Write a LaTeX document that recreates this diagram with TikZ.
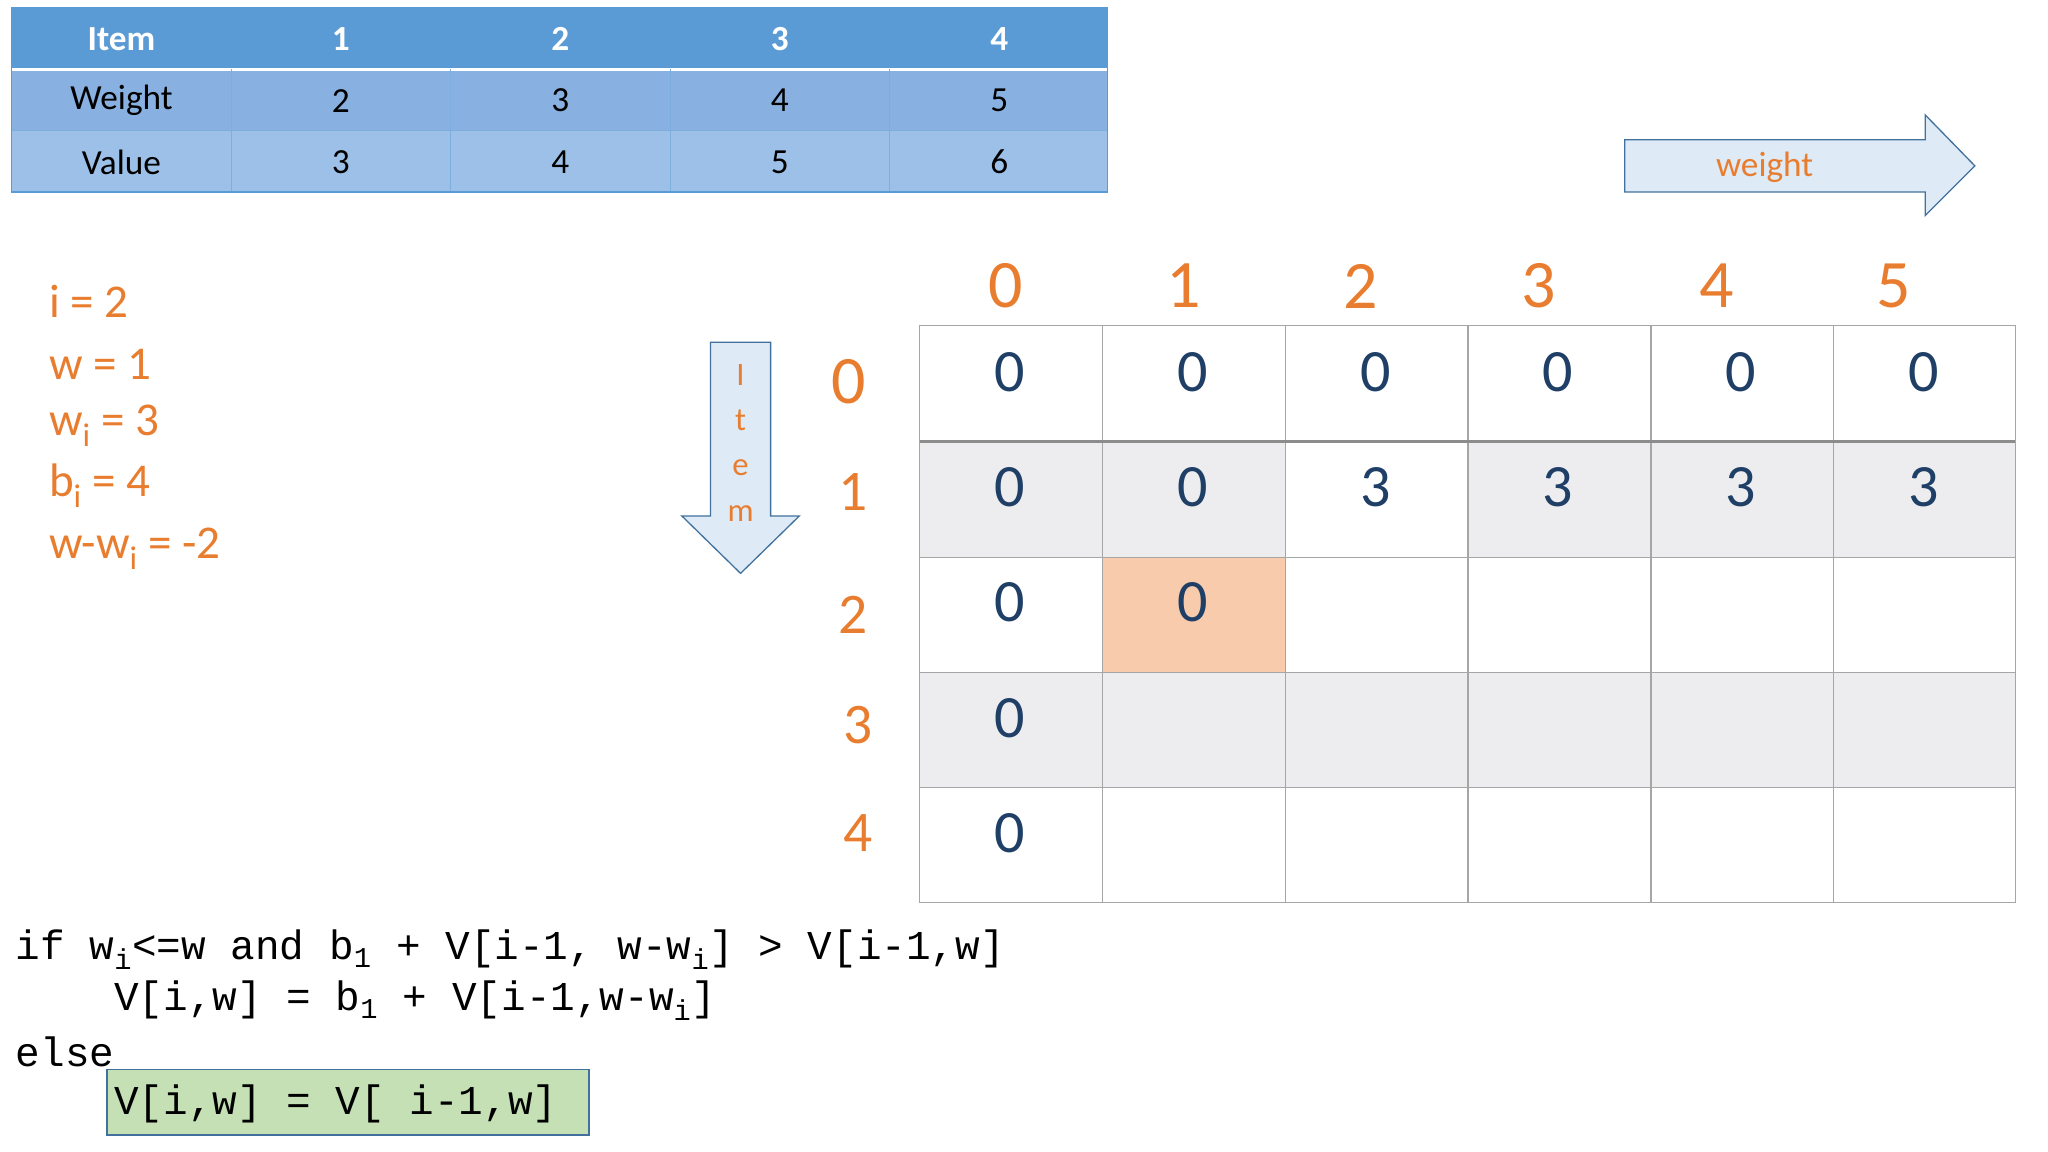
\documentclass[tikz,border=0pt]{standalone}
\usepackage{fontspec}
\setmainfont{Carlito}
\setmonofont{Liberation Mono}
\definecolor{org}{HTML}{E87D2F}
\definecolor{num}{HTML}{1F3F66}
\definecolor{hdr}{HTML}{5B9BD5}
\definecolor{rowa}{HTML}{88B0E0}
\definecolor{rowb}{HTML}{9DC0E8}
\definecolor{gry}{HTML}{EDEDF0}
\definecolor{pch}{HTML}{F8CBAD}
\definecolor{arrf}{HTML}{DEEBF7}
\definecolor{arrd}{HTML}{41719C}
\definecolor{grn}{HTML}{C5E0B4}
\begin{document}
\begin{tikzpicture}[x=1pt,y=-1pt,
  cell/.style={font=\fontsize{27}{30}\selectfont,anchor=center},
  gnum/.style={font=\fontsize{46}{50}\selectfont,text=num,anchor=center},
  glab/.style={font=\fontsize{52}{56}\selectfont,text=org,anchor=center},
  var/.style={font=\fontsize{36}{40}\selectfont,text=org,anchor=west},
  code/.style={font=\ttfamily\fontsize{31.4}{34}\selectfont,anchor=west,inner sep=0}]
\useasboundingbox (0,0) rectangle (1568,882);
% table
\fill[hdr] (9,6) rectangle (848,53);
\fill[rowa] (9,53) rectangle (848,100);
\fill[rowb] (9,100) rectangle (848,147);
\draw[white,line width=2pt] (9,53) -- (848,53);
\foreach \x in {177,345,513,681} \draw[hdr!80,line width=0.6pt] (\x,53) -- (\x,147);
\draw[hdr!80,line width=0.6pt] (9,100) -- (848,100);
\draw[hdr,line width=0.8pt] (9,6) rectangle (848,147);
\foreach \t [count=\i from 0] in {Item,1,2,3,4} {
  \pgfmathsetmacro\cx{93+168*\i}
  \node[cell,text=white,font=\bfseries\fontsize{27}{30}\selectfont] (h\i) at (\cx,30) {\t};}
\foreach \t [count=\i from 0] in {Weight,2,3,4,5} {
  \pgfmathsetmacro\cx{93+168*\i}
  \node[cell] (w\i) at (\cx,77) {\t};}
\foreach \t [count=\i from 0] in {Value,3,4,5,6} {
  \pgfmathsetmacro\cx{93+168*\i}
  \node[cell] (v\i) at (\cx,124) {\t};}
% weight arrow
\draw[fill=arrf,draw=arrd,line width=1pt] (1244,107) -- (1474,107) -- (1474,88) -- (1512,127) -- (1474,165) -- (1474,147) -- (1244,147) -- cycle;
\node[font=\fontsize{27}{30}\selectfont,text=org] (wa) at (1351,128) {weight};
% item arrow
\draw[fill=arrf,draw=arrd,line width=1pt] (544,262) -- (590,262) -- (590,395) -- (612,395) -- (567,439) -- (522,395) -- (544,395) -- cycle;
\foreach \t/\y [count=\i] in {I/287,t/322,e/358,m/393}
  \node[font=\fontsize{25}{28}\selectfont,text=org] (it\i) at (567,\y) {\t};
% variables
\node[var] (v1) at (34,231) {i = 2};
\node[var] (v2) at (34,279) {w = 1};
\node[var] (v3) at (34,326) {w\textsubscript{i} = 3};
\node[var] (v4) at (34,372) {b\textsubscript{i} = 4};
\node[var] (v5) at (34,420) {w-w\textsubscript{i} = -2};
% grid fills
\fill[gry] (704,338) rectangle (984,427);
\fill[gry] (1124,338) rectangle (1543,427);
\fill[gry] (704,515) rectangle (1543,603);
\fill[pch] (844,427) rectangle (984,515);
\foreach \x in {704,844,984,1124,1264,1404,1543} \draw[gray!70,line width=1pt] (\x,249) -- (\x,691);
\foreach \y in {249,427,515,603,691} \draw[gray!70,line width=1pt] (704,\y) -- (1543,\y);
\draw[gray!90,line width=2pt] (704,338) -- (1543,338);
% headers
\foreach \i in {0,...,5} {
  \pgfmathsetmacro\cx{770+136*\i}
  \node[glab] (c\i) at (\cx,219) {\i};}
\node[glab] (r0) at (650,292) {0};
\node[glab,font=\fontsize{44}{48}\selectfont] (r1) at (653,377) {1};
\node[glab,font=\fontsize{44}{48}\selectfont] (r2) at (653,471) {2};
\node[glab,font=\fontsize{44}{48}\selectfont] (r3) at (657,555) {3};
\node[glab,font=\fontsize{44}{48}\selectfont] (r4) at (657,638) {4};
% grid numbers
\foreach \i in {0,...,5} {
  \pgfmathsetmacro\cx{773+140*\i}
  \node[gnum] (g0\i) at (\cx,285) {0};}
\foreach \t [count=\i from 0] in {0,0,3,3,3,3} {
  \pgfmathsetmacro\cx{773+140*\i}
  \node[gnum] (g1\i) at (\cx,373) {\t};}
\node[gnum] (g20) at (773,461) {0};
\node[gnum] (g21) at (913,461) {0};
\node[gnum] (g30) at (773,550) {0};
\node[gnum] (g40) at (773,638) {0};
% code
\fill[grn] (82,819) rectangle (451,869);
\draw[arrd,line width=1pt] (82,819) rectangle (451,869);
\node[code] (l1) at (12,727) {if w\textsubscript{i}<=w and b\textsubscript{1} + V[i-1, w-w\textsubscript{i}] > V[i-1,w]};
\node[code] (l2) at (12,766) {\ \ \ \ V[i,w] = b\textsubscript{1} + V[i-1,w-w\textsubscript{i}]};
\node[code] (l3) at (12,805) {else};
\node[code] (l4) at (12,845) {\ \ \ \ V[i,w] = V[ i-1,w]};
\end{tikzpicture}
\end{document}
